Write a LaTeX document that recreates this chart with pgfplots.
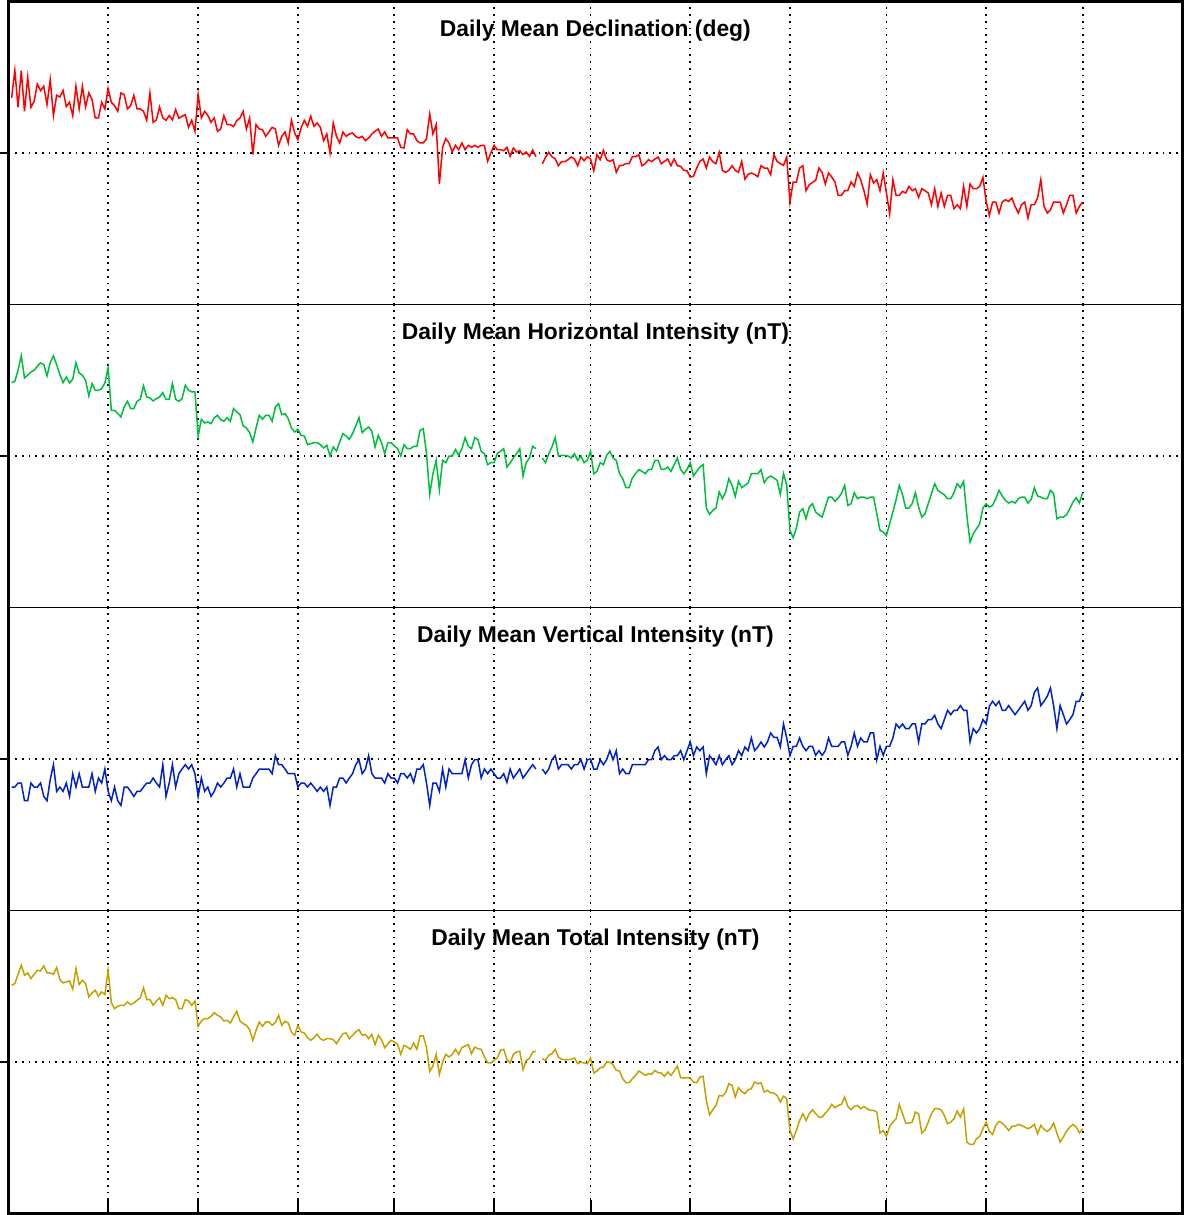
\documentclass[border=0pt]{standalone}
\usepackage{fontspec}
\setmainfont{Liberation Sans}
\usepackage{pgfplots}
\usepackage{pgfplotstable}
\pgfplotsset{compat=1.18}
\definecolor{cred}{RGB}{255,0,0}
\definecolor{cgreen}{RGB}{0,190,60}
\definecolor{cblue}{RGB}{0,35,200}
\definecolor{cgold}{RGB}{196,160,0}

% daily values, day 1..334 (row index + 1); y in relative units, 0 = panel centre
\pgfplotstableread[row sep=\\]{v\\
165\\247\\137\\247\\125\\227\\137\\155\\207\\187\\
200\\145\\220\\112\\173\\168\\187\\139\\152\\112\\
200\\132\\200\\138\\180\\160\\105\\105\\152\\132\\
193\\152\\142\\125\\180\\175\\132\\142\\173\\132\\
132\\125\\98\\180\\92\\99\\138\\105\\98\\112\\
99\\130\\104\\110\\115\\77\\98\\65\\175\\105\\
125\\113\\92\\105\\65\\72\\112\\85\\85\\79\\
97\\105\\125\\72\\105\\-5\\85\\72\\70\\50\\
63\\77\\72\\23\\50\\63\\30\\98\\60\\40\\
75\\98\\80\\110\\80\\90\\77\\37\\57\\0\\
90\\50\\30\\63\\50\\57\\60\\49\\45\\50\\
37\\45\\57\\65\\72\\50\\63\\45\\45\\45\\
45\\17\\
15\\70\\57\\57\\37\\30\\30\\43\\117\\57\\
85\\-93\\17\\43\\30\\3\\23\\10\\30\\10\\
23\\17\\23\\17\\23\\23\\-25\\0\\23\\10\\
10\\7\\17\\-10\\15\\3\\7\\-5\\3\\-10\\
9\\-11\\
nan\\
-33\\-13\\2\\-11\\-17\\-38\\-26\\-26\\-20\\-12\\
-18\\-38\\-12\\-23\\-11\\-18\\-53\\-5\\-20\\8\\
-20\\-25\\-20\\-58\\-38\\-37\\-32\\-32\\-11\\-11\\
-5\\-38\\-32\\-20\\-26\\-18\\-12\\-32\\-25\\-18\\
-38\\-18\\-38\\-40\\-52\\-53\\-72\\-70\\-45\\-25\\
-18\\-45\\-12\\-26\\-32\\2\\-52\\-58\\-52\\-38\\
-52\\-58\\-25\\-78\\-64\\-60\\-64\\-71\\-38\\-45\\
-45\\-65\\-5\\-25\\-32\\-37\\-12\\-147\\
-87\\-87\\-45\\-38\\-113\\-95\\-88\\-82\\-45\\-58\\
-93\\-60\\-72\\-87\\-127\\-127\\-113\\-113\\-87\\-100\\
-60\\-80\\-113\\-153\\-65\\-90\\-80\\-113\\-60\\-120\\
-182\\-80\\-127\\-127\\-115\\-120\\-100\\-113\\-107\\-133\\
-107\\-113\\-120\\-155\\-107\\-160\\-120\\-160\\-127\\-127\\
-167\\-155\\-167\\-100\\-160\\-93\\-107\\-107\\-100\\-73\\
-145\\-187\\-147\\-147\\-180\\-147\\-140\\-145\\-135\\-160\\
-180\\-155\\-147\\-195\\-155\\-155\\-135\\-80\\-160\\-180\\
-170\\-147\\-147\\-147\\-180\\-155\\-127\\-127\\-180\\-160\\
-147\\
}\tabred

\pgfplotstableread[row sep=\\]{v\\
220\\224\\257\\300\\234\\242\\252\\257\\269\\279\\
274\\240\\280\\300\\274\\244\\220\\237\\219\\230\\
279\\249\\242\\227\\180\\217\\197\\197\\202\\219\\
264\\137\\137\\127\\117\\147\\164\\142\\142\\164\\
170\\210\\177\\174\\165\\172\\177\\190\\170\\170\\
217\\170\\164\\172\\212\\197\\192\\192\\60\\110\\
99\\102\\97\\114\\122\\109\\104\\115\\104\\142\\
132\\124\\90\\84\\70\\42\\84\\122\\110\\122\\
122\\104\\147\\157\\124\\127\\112\\84\\72\\80\\
62\\60\\34\\37\\40\\40\\34\\24\\32\\0\\
27\\15\\42\\67\\60\\50\\67\\90\\115\\70\\
80\\87\\74\\27\\62\\40\\7\\40\\40\\30\\
22\\0\\
34\\22\\22\\29\\29\\77\\82\\7\\-115\\-53\\
-13\\-101\\-13\\-20\\0\\0\\20\\2\\22\\55\\
29\\22\\55\\49\\14\\7\\-26\\-20\\-20\\7\\
14\\22\\-33\\-20\\-6\\7\\22\\-60\\-20\\-6\\
29\\22\\
nan\\
-6\\-20\\7\\27\\55\\0\\2\\2\\0\\-6\\
7\\-13\\0\\-20\\-13\\14\\-53\\-46\\-20\\-26\\
2\\14\\-6\\-13\\-53\\-68\\-95\\-95\\-66\\-53\\
-41\\-46\\-53\\-41\\-40\\-13\\-13\\-40\\-40\\-33\\
-46\\-26\\-6\\-40\\-53\\-40\\-20\\-60\\-46\\-33\\
-26\\-156\\-175\\-163\\-156\\-108\\-128\\-108\\-68\\-88\\
-121\\-76\\-95\\-88\\-81\\-53\\-53\\-53\\-41\\-80\\
-66\\-60\\-66\\-73\\-115\\-53\\-88\\-223\\
-245\\-216\\-168\\-158\\-188\\-153\\-143\\-168\\-176\\-183\\
-153\\-123\\-123\\-136\\-126\\-113\\-88\\-148\\-143\\-110\\
-128\\-123\\-123\\-128\\-123\\-123\\-173\\-223\\-228\\-238\\
-203\\-168\\-131\\-88\\-116\\-156\\-156\\-143\\-110\\-153\\
-183\\-173\\-143\\-113\\-83\\-103\\-110\\-116\\-128\\-128\\
-110\\-83\\-95\\-76\\-178\\-258\\-233\\-218\\-203\\-156\\
-143\\-153\\-148\\-128\\-103\\-120\\-133\\-141\\-136\\-141\\
-128\\-123\\-123\\-141\\-130\\-95\\-120\\-123\\-128\\-128\\
-103\\-113\\-188\\-183\\-183\\-176\\-158\\-138\\-125\\-141\\
-110\\
}\tabgreen

\pgfplotstableread[row sep=\\]{v\\
-84\\-84\\-72\\-72\\-125\\-125\\-72\\-84\\-84\\-72\\
-112\\-125\\-62\\-17\\-97\\-84\\-97\\-72\\-112\\-44\\
-84\\-44\\-84\\-84\\-84\\-44\\-97\\-57\\-72\\-30\\
-97\\-125\\-84\\-125\\-139\\-84\\-84\\-97\\-112\\-97\\
-97\\-84\\-72\\-72\\-57\\-72\\-84\\-17\\-112\\-72\\
-17\\-84\\-44\\-30\\-17\\-30\\-17\\-44\\-112\\-57\\
-97\\-84\\-112\\-97\\-72\\-84\\-72\\-57\\-57\\-30\\
-84\\-44\\-84\\-84\\-84\\-57\\-44\\-30\\-30\\-30\\
-30\\-44\\10\\-17\\-17\\-30\\-44\\-44\\-44\\-84\\
-72\\-72\\-84\\-72\\-84\\-97\\-84\\-97\\-84\\-139\\
-84\\-84\\-57\\-57\\-72\\-57\\-44\\-17\\-2\\-44\\
-30\\10\\-44\\-57\\-57\\-57\\-72\\-44\\-57\\-57\\
-72\\-44\\
-44\\-57\\-44\\-70\\-30\\-30\\-17\\-72\\-139\\-72\\
-72\\-97\\-30\\-84\\-30\\-44\\-44\\-44\\-44\\-2\\
-57\\-17\\-2\\-2\\-57\\-30\\-44\\-30\\-44\\-57\\
-57\\-44\\-70\\-30\\-57\\-44\\-30\\-57\\-44\\-30\\
-17\\-30\\
nan\\
-30\\-44\\-30\\-2\\10\\-30\\-17\\-17\\-17\\-30\\
-17\\-17\\-2\\-30\\-2\\0\\-30\\-30\\-2\\-17\\
-2\\25\\-2\\25\\-44\\-30\\-44\\-44\\-17\\-17\\
-17\\-17\\-17\\-2\\-2\\25\\36\\-2\\10\\-2\\
-2\\10\\10\\25\\-2\\25\\51\\10\\36\\25\\
36\\-44\\10\\-2\\-17\\10\\-17\\-2\\10\\-17\\
-2\\25\\10\\36\\25\\63\\25\\36\\51\\36\\
51\\78\\65\\65\\36\\105\\63\\10\\
38\\38\\63\\38\\25\\38\\38\\11\\25\\11\\
25\\63\\38\\38\\38\\51\\51\\11\\38\\78\\
38\\63\\51\\51\\78\\78\\-2\\38\\11\\38\\
38\\63\\105\\93\\105\\91\\91\\105\\105\\51\\
105\\105\\118\\118\\131\\105\\91\\118\\146\\133\\
146\\146\\160\\146\\146\\51\\91\\78\\91\\118\\
105\\158\\173\\160\\173\\146\\146\\160\\146\\133\\
146\\160\\173\\146\\160\\200\\213\\160\\173\\188\\
213\\158\\91\\160\\133\\105\\118\\133\\173\\173\\
200\\
}\tabblue

\pgfplotstableread[row sep=\\]{v\\
230\\235\\263\\290\\260\\267\\250\\263\\275\\273\\
288\\267\\267\\263\\283\\247\\237\\240\\243\\218\\
280\\232\\245\\235\\195\\207\\215\\197\\210\\202\\
275\\178\\160\\167\\170\\170\\180\\172\\177\\185\\
192\\222\\187\\187\\170\\183\\192\\170\\200\\190\\
193\\187\\160\\160\\187\\183\\170\\183\\107\\123\\
130\\130\\137\\148\\140\\135\\123\\125\\117\\135\\
152\\123\\115\\110\\97\\65\\95\\120\\107\\120\\
120\\110\\118\\140\\110\\122\\117\\90\\80\\110\\
90\\87\\73\\65\\73\\83\\70\\65\\70\\70\\
67\\55\\70\\85\\87\\70\\80\\90\\97\\80\\
83\\70\\83\\52\\80\\67\\43\\55\\65\\60\\
53\\23\\
50\\45\\38\\57\\38\\78\\78\\43\\-28\\-12\\
23\\-37\\0\\23\\15\\23\\38\\23\\43\\48\\
52\\25\\45\\40\\38\\15\\-2\\-3\\5\\12\\
35\\38\\8\\-3\\23\\30\\32\\-23\\5\\10\\
30\\32\\
nan\\
10\\5\\20\\25\\38\\15\\8\\7\\7\\8\\
12\\-5\\0\\-3\\-5\\12\\-33\\-27\\-17\\-15\\
0\\0\\-8\\-25\\-27\\-50\\-62\\-62\\-50\\-40\\
-27\\-33\\-40\\-35\\-37\\-25\\-32\\-33\\-43\\-30\\
-40\\-27\\-12\\-47\\-48\\-47\\-48\\-60\\-62\\-45\\
-43\\-115\\-158\\-143\\-130\\-100\\-102\\-92\\-65\\-70\\
-105\\-77\\-88\\-95\\-83\\-80\\-60\\-65\\-62\\-90\\
-85\\-92\\-93\\-100\\-120\\-102\\-110\\-205\\
-230\\-205\\-175\\-155\\-175\\-155\\-143\\-155\\-165\\-165\\
-153\\-143\\-127\\-137\\-130\\-127\\-105\\-133\\-143\\-133\\
-130\\-140\\-133\\-140\\-145\\-145\\-150\\-213\\-205\\-223\\
-193\\-180\\-170\\-127\\-155\\-183\\-183\\-180\\-150\\-155\\
-213\\-203\\-180\\-155\\-140\\-140\\-143\\-160\\-185\\-180\\
-170\\-147\\-165\\-140\\-240\\-247\\-247\\-230\\-223\\-200\\
-180\\-208\\-217\\-190\\-178\\-183\\-193\\-205\\-193\\-192\\
-187\\-190\\-195\\-200\\-195\\-187\\-215\\-190\\-202\\-208\\
-200\\-183\\-213\\-240\\-225\\-207\\-195\\-187\\-195\\-212\\
-200\\
}\tabgold

\pgfplotsset{
  panel/.style={
    scale only axis, width=586pt, height=151.25pt,
    xmin=0, xmax=365, ymin=-454, ymax=454,
    xtick={31,59,90,120,151,181,212,243,273,304,334},
    xticklabels={}, xmajorgrids=true,
    ytick=\empty,
    extra y ticks={0}, extra y tick labels={},
    extra y tick style={grid=major, tick align=outside, major tick length=4.2pt,
      tick style={line width=1pt, black}},
    xtick pos=bottom, ytick pos=left, tick align=inside,
    major tick length=6.5pt,
    tick style={line width=1pt, black},
    grid style={black, line width=0.9pt, dash pattern=on 0.9pt off 2.45pt},
    axis line style={line width=0.6pt},
    unbounded coords=jump,
    title style={font=\bfseries\fontsize{11.4}{13}\selectfont, at={(0.5,1)},
      anchor=north, yshift=-14.8pt, inner sep=0pt},
  },
  upper/.style={major tick length=0pt},
}

\begin{document}
\begin{tikzpicture}
\begin{axis}[panel, upper, name=a1, at={(0,0)}, anchor=north west,
  title={Daily Mean Declination (deg)}]
\addplot[cred, line width=0.75pt] table[x expr=\coordindex+1, y=v]{\tabred};
\end{axis}
\begin{axis}[panel, upper, name=a2, at={(a1.south west)}, anchor=north west,
  title={Daily Mean Horizontal Intensity (nT)}]
\addplot[cgreen, line width=0.75pt] table[x expr=\coordindex+1, y=v]{\tabgreen};
\end{axis}
\begin{axis}[panel, upper, name=a3, at={(a2.south west)}, anchor=north west,
  title={Daily Mean Vertical Intensity (nT)}]
\addplot[cblue, line width=0.75pt] table[x expr=\coordindex+1, y=v]{\tabblue};
\end{axis}
\begin{axis}[panel, name=a4, at={(a3.south west)}, anchor=north west,
  title={Daily Mean Total Intensity (nT)}]
\addplot[cgold, line width=0.75pt] table[x expr=\coordindex+1, y=v]{\tabgold};
\end{axis}
\draw[line width=1.5pt] (a1.north west) rectangle (a4.south east);
\pgfresetboundingbox
\path[use as bounding box] ([xshift=-4.2pt,yshift=0.75pt]a1.north west) rectangle ([xshift=0.75pt,yshift=-0.75pt]a4.south east);
\end{tikzpicture}
\end{document}
